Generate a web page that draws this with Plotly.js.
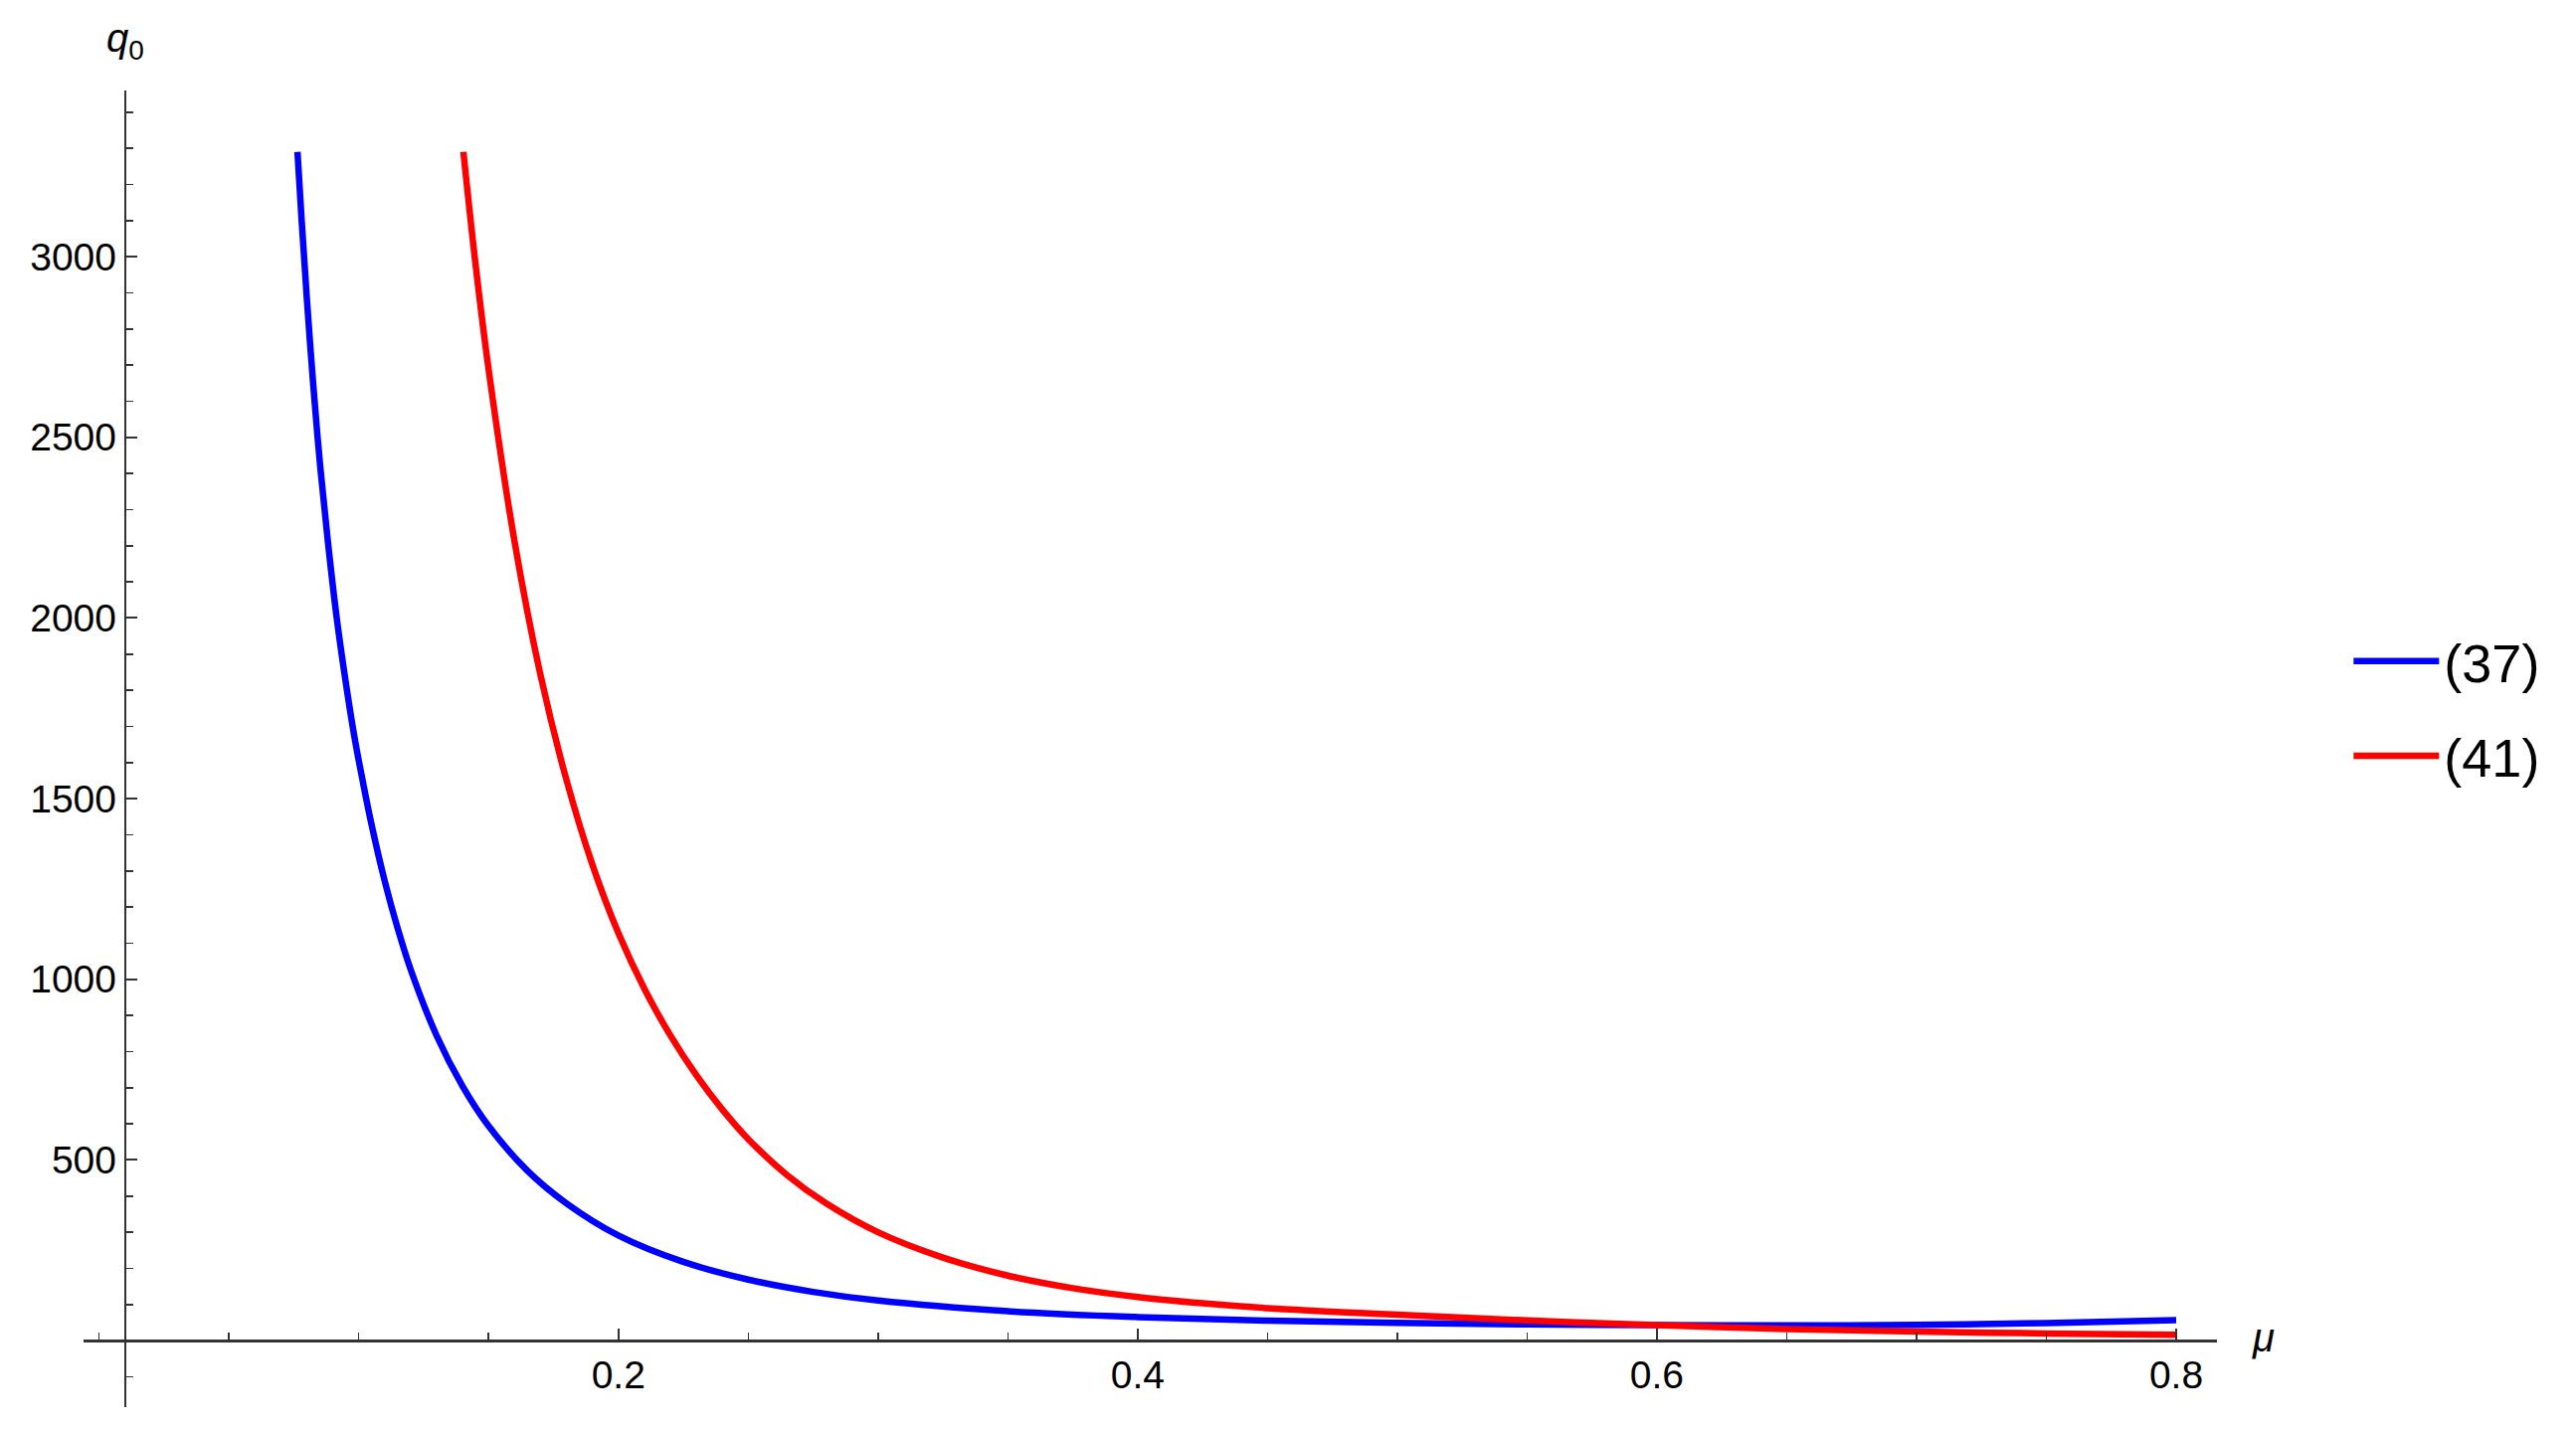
<!DOCTYPE html>
<html>
<head>
<meta charset="utf-8">
<script src="https://cdn.plot.ly/plotly-3.0.1.min.js"></script>
<style>html,body{margin:0;padding:0;background:#fff;}#chart{width:2590px;height:1440px;}</style>
</head>
<body>
<div id="chart"></div>
<script>
// Series (37): mu vs q0
const mu37 = [0.0764,0.078,0.080,0.0825,0.085,0.088,0.0915,0.095,0.0985,0.1015,0.105,0.11,0.115,0.12,0.13,0.14,0.15,0.165,0.18,0.2,0.225,0.25,0.275,0.3,0.35,0.4,0.45,0.5,0.55,0.6,0.65,0.7,0.75,0.8];
const q37  = [3290,3101,2885,2643,2432,2219,2001,1822,1664,1550,1426,1272,1141,1027,844,704,594,470,380,291,218,169,135,111,81.6,65.3,55.2,49.3,45.1,43.1,42.2,43.7,48.7,57.1];
// Series (41): mu vs q0
const mu41 = [0.1403,0.145,0.15,0.16,0.17,0.18,0.19,0.2,0.21,0.22,0.23,0.24,0.25,0.265,0.28,0.3,0.325,0.35,0.375,0.4,0.425,0.45,0.5,0.55,0.6,0.65,0.7,0.75,0.8];
const q41  = [3290,2978,2689,2212,1842,1552,1317,1128,974,845,735,640,558,458,380,300,230,180,145.3,121,103.5,90,72,56,43,32,25,20,16.5];
// Axis ticks
const xTickVals = [0.2,0.4,0.6,0.8];
const xTickText = ['0.2','0.4','0.6','0.8'];
const yTickVals = [500,1000,1500,2000,2500,3000];
const yTickText = ['500','1000','1500','2000','2500','3000'];
const seriesNames = ['(37)','(41)'];

const xRange = [-0.006, 0.8157];
const yRange = [-184, 3460];
const yAxisAtX = 0.01;

const traces = [
  {x: mu37, y: q37, name: seriesNames[0], type: 'scatter', mode: 'lines', legendgroup: 'a',
   line: {color: '#0000ff', width: 6.5, shape: 'spline', smoothing: 1}},
  {x: mu41, y: q41, name: seriesNames[1], type: 'scatter', mode: 'lines', legendgroup: 'b',
   line: {color: '#ff0000', width: 6.5, shape: 'spline', smoothing: 1}}
];

const axisColor = '#333333';
const tickFont = {family: 'Liberation Sans, Arial, sans-serif', size: 39, color: '#000'};

const layout = {
  width: 2590, height: 1440,
  margin: {l: 84, r: 361, t: 91, b: 25},
  paper_bgcolor: '#fff', plot_bgcolor: '#fff',
  showlegend: true,
  legend: {x: 1.0617, xanchor: 'left', y: 0.598, yanchor: 'top',
           font: {family: 'Liberation Sans, Arial, sans-serif', size: 54, color: '#000'},
           tracegroupgap: 22, itemwidth: 86, bgcolor: 'rgba(0,0,0,0)'},
  xaxis: {
    range: xRange, anchor: 'free',
    position: (0 - yRange[0]) / (yRange[1] - yRange[0]),
    showline: true, linecolor: axisColor, linewidth: 2.5,
    showgrid: false, zeroline: false, automargin: false,
    tickmode: 'array', tickvals: xTickVals, ticktext: xTickText,
    ticks: 'inside', ticklen: 11, tickwidth: 2, tickcolor: axisColor,
    tickfont: tickFont,
    minor: {tickmode: 'linear', tick0: 0, dtick: 0.05, ticks: 'inside', ticklen: 7, tickwidth: 1.5, tickcolor: axisColor, showgrid: false}
  },
  yaxis: {
    range: yRange, anchor: 'free',
    position: (yAxisAtX - xRange[0]) / (xRange[1] - xRange[0]),
    showline: true, linecolor: axisColor, linewidth: 2.5,
    showgrid: false, zeroline: false, automargin: false,
    tickmode: 'array', tickvals: yTickVals, ticktext: yTickText,
    ticks: 'inside', ticklen: 11, tickwidth: 2, tickcolor: axisColor,
    tickfont: tickFont,
    minor: {tickmode: 'linear', tick0: 0, dtick: 100, ticks: 'inside', ticklen: 7, tickwidth: 1.5, tickcolor: axisColor, showgrid: false}
  },
  annotations: [
    {xref: 'paper', yref: 'paper', x: 0.0194, y: 1.038, text: '<i>q</i><sub>0</sub>', showarrow: false,
     xanchor: 'center', yanchor: 'middle', font: {family: 'Liberation Sans, Arial, sans-serif', size: 40, color: '#000'}},
    {xref: 'paper', yref: 'paper', x: 1.0219, y: 0.053, text: '<i>μ</i>', showarrow: false,
     xanchor: 'center', yanchor: 'middle', font: {family: 'Liberation Sans, Arial, sans-serif', size: 40, color: '#000'}}
  ]
};

Plotly.newPlot('chart', traces, layout, {displayModeBar: false, staticPlot: true});
</script>
</body>
</html>
